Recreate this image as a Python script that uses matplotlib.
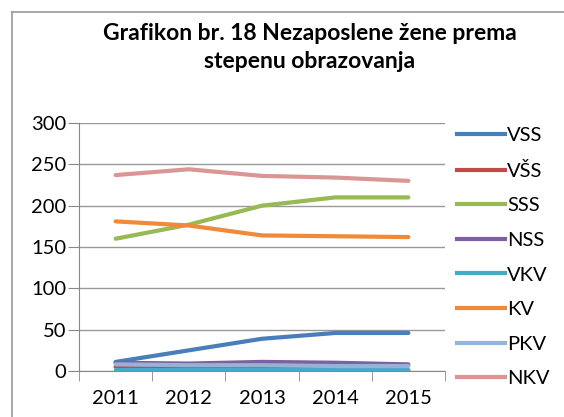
import matplotlib.pyplot as plt
from matplotlib.lines import Line2D

years = ['2011', '2012', '2013', '2014', '2015']
series = ['VSS', 'VŠS', 'SSS', 'NSS', 'VKV', 'KV', 'PKV', 'NKV']
vss = [11, 25, 39, 46, 46]
vss2 = [5, 3, 3, 2, 1]
sss = [160, 177, 200, 210, 210]
nss = [10, 9, 11, 10, 8]
vkv = [1, 1, 1, 1, 1]
kv = [181, 176, 164, 163, 162]
pkv = [8, 7, 7, 6, 6]
nkv = [237, 244, 236, 234, 230]
values = [vss, vss2, sss, nss, vkv, kv, pkv, nkv]
colors = ['#4A7EBB', '#BE4B48', '#98B954', '#7D60A0', '#46AAC5', '#EE8A3A', '#95B3D7', '#D99694']

plt.rcParams['font.family'] = ['Lato', 'DejaVu Sans']

fig = plt.figure(figsize=(5.64, 4.17), dpi=100)
ax = fig.add_axes([79/564, 46/417, 366/564, 248/417])

x = range(len(years))
# draw order: Excel draws later series on top
order = [7, 5, 2, 0, 3, 6, 1, 4]
for i in order:
    ax.plot(x, values[i], color=colors[i], lw=3, solid_capstyle='round', zorder=3 + i)

ax.set_xlim(-0.5, 4.5)
ax.set_ylim(0, 300)
ax.set_yticks(range(0, 301, 50))
ax.set_xticks(list(x))
ax.set_xticklabels(years, fontsize=14.5)
ax.tick_params(axis='y', labelsize=14.5, length=8, color='#888888', pad=1)
ax.tick_params(axis='x', length=0, pad=14)
ax.set_xticks([i + 0.5 for i in range(-1, 5)], minor=True)
ax.tick_params(axis='x', which='minor', length=7, color='#888888')
ax.grid(axis='y', color='#999999', lw=1)
ax.set_axisbelow(True)
for s in ['top', 'right']:
    ax.spines[s].set_visible(False)
ax.spines['left'].set_color('#888888')
ax.spines['bottom'].set_color('#888888')

fig.text(310/564, 1 - 33/417, 'Grafikon br. 18 Nezaposlene žene prema',
         ha='center', va='center', fontsize=16.5, fontweight='bold')
fig.text(310/564, 1 - 61/417, 'stepenu obrazovanja',
         ha='center', va='center', fontsize=16.5, fontweight='bold')

handles = [Line2D([], [], color=c, lw=3) for c in colors]
fig.legend(handles, series, loc='upper left', bbox_to_anchor=(449/564, 1 - 119/417),
           frameon=False, fontsize=14.5, handlelength=2.4, handletextpad=0.1,
           labelspacing=0.87, borderaxespad=0)

# chart border (only left and top visible in the crop)
fig.add_artist(Line2D([12/564, 12/564], [0, 1 - 12/417], color='#999999', lw=1.2))
fig.add_artist(Line2D([12/564, 1], [1 - 12/417, 1 - 12/417], color='#999999', lw=1.2))

fig.savefig('out.png', dpi=100)
